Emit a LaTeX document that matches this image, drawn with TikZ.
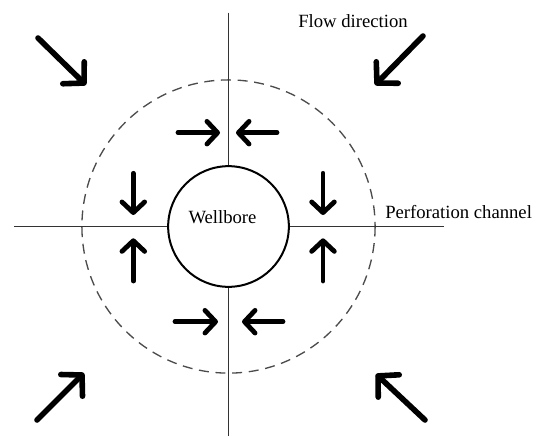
\documentclass[tikz,border=0pt]{standalone}
\usepackage{fontspec}
\setmainfont{Liberation Serif}
\usetikzlibrary{arrows.meta,positioning}

\tikzset{
  flow/.style={line width=4.2pt, line cap=round, -{Straight Barb[length=11pt,width=23pt,round]}},
  push/.style={line width=3.6pt, line cap=round, -{Straight Barb[length=8pt,width=17pt,round]}},
  channel/.style={line width=0.8pt, black!80},
  zone/.style={line width=1pt, black!70, dash pattern=on 7.5pt off 5pt},
}

\begin{document}
\begin{tikzpicture}[x=0.75pt, y=-0.75pt, font=\fontsize{14}{16}\selectfont, every node/.style={inner sep=0pt}]
    \useasboundingbox (0,0) rectangle (538,436);
    % dashed zone round the well
    \draw[zone] (228.5,226.5) circle[radius=146.6];
    \node[circle, draw, line width=1.5pt, minimum size=90.5pt] (well) at (228.5,226.5) {};
    \node (welltext) at (222.5,216.7) {Wellbore};
    % perforation channels
    \coordinate (chanN) at (228.5,12.5);
    \coordinate (chanS) at (228.5,436);
    \coordinate (chanW) at (14.4,226.5);
    \coordinate (chanE) at (444,226.5);
    \foreach \c in {chanN,chanS,chanW,chanE}
        \draw[channel] (\c) -- (well);
    \node (flowtext) at (353,20.7) {Flow direction};
    \node[anchor=west] (chantext) at (385,211.7) {Perforation channel};
    % far field flow
    \draw[flow] (38,38) -- (86,85);
    \draw[flow] (423,36) -- (375,85);
    \draw[flow] (37,420) -- (84,373);
    \draw[flow] (425,420) -- (376,374);
    % flow near the channels
    \draw[push] (178,132.7) -- (220,132.7);
    \draw[push] (277,132.7) -- (236,132.7);
    \draw[push] (175,321.7) -- (218,321.7);
    \draw[push] (283,321.7) -- (242,321.7);
    \foreach \x in {133.3,323} {
        \draw[push] (\x,173.3) -- (\x,215);
        \draw[push] (\x,281) -- (\x,238.3);
    }
\end{tikzpicture}
\end{document}
